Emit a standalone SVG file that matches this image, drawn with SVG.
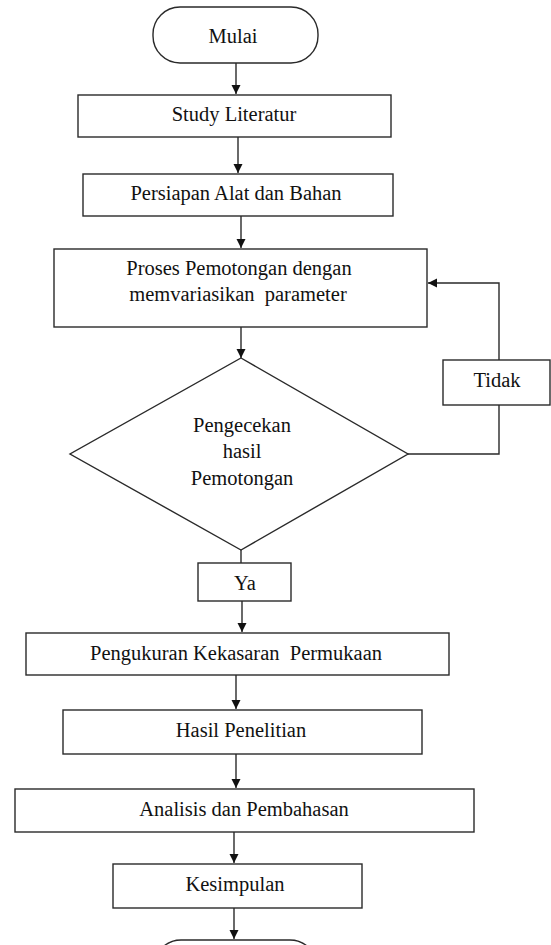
<svg xmlns="http://www.w3.org/2000/svg" width="551" height="945" viewBox="0 0 551 945">
<style>
.s{fill:#fff;stroke:#2a2a2a;stroke-width:1.4}
.c{fill:none;stroke:#2a2a2a;stroke-width:1.4}
.t{font-family:'Liberation Serif','DejaVu Serif',serif;font-size:20.5px;fill:#111;text-anchor:middle}
</style>
<defs>
<marker id="ah" markerUnits="userSpaceOnUse" markerWidth="10" markerHeight="10" refX="9" refY="4.5" orient="auto">
<path d="M0,0 L9,4.5 L0,9 z" fill="#111"/>
</marker>
</defs>
<rect width="551" height="945" fill="#fff"/>
<g id="connectors">
<line class="c" x1="236" y1="63" x2="236" y2="94" marker-end="url(#ah)"/>
<line class="c" x1="238" y1="137" x2="238" y2="173" marker-end="url(#ah)"/>
<line class="c" x1="241" y1="216" x2="241" y2="248" marker-end="url(#ah)"/>
<line class="c" x1="241" y1="327" x2="241" y2="358" marker-end="url(#ah)"/>
<line class="c" x1="241" y1="550" x2="241" y2="563"/>
<line class="c" x1="242" y1="601" x2="242" y2="632" marker-end="url(#ah)"/>
<line class="c" x1="236" y1="675" x2="236" y2="709" marker-end="url(#ah)"/>
<line class="c" x1="236" y1="754" x2="236" y2="788" marker-end="url(#ah)"/>
<line class="c" x1="234" y1="832" x2="234" y2="863" marker-end="url(#ah)"/>
<line class="c" x1="234" y1="908" x2="234" y2="939" marker-end="url(#ah)"/>
<polyline class="c" points="408,454 499,454 499,405"/>
<polyline class="c" points="499,360 499,283 428,283" marker-end="url(#ah)"/>
</g>
<g class="t" font-family="Liberation Serif, DejaVu Serif, serif">
<g id="mulai"><rect class="s" x="153" y="7" width="165" height="56" rx="27"/><text x="233" y="43">Mulai</text></g>
<g id="study"><rect class="s" x="78" y="95" width="313" height="42"/><text x="234" y="121">Study Literatur</text></g>
<g id="persiapan"><rect class="s" x="83" y="174" width="310" height="42"/><text x="236" y="200">Persiapan Alat dan Bahan</text></g>
<g id="proses"><rect class="s" x="54" y="249" width="373" height="78"/><text x="239" y="275">Proses Pemotongan dengan</text><text x="238" y="301">memvariasikan&#160; parameter</text></g>
<g id="pengecekan"><polygon class="s" points="241,358 408,454 241,550 70,454"/><text x="242" y="432">Pengecekan</text><text x="242" y="458">hasil</text><text x="242" y="485">Pemotongan</text></g>
<g id="tidak"><rect class="s" x="443" y="360" width="107" height="45"/><text x="497" y="387">Tidak</text></g>
<g id="ya"><rect class="s" x="198" y="563" width="93" height="38"/><text x="245" y="590">Ya</text></g>
<g id="pengukuran"><rect class="s" x="26" y="633" width="423" height="42"/><text x="236" y="660">Pengukuran Kekasaran&#160; Permukaan</text></g>
<g id="hasil"><rect class="s" x="63" y="710" width="359" height="44"/><text x="241" y="737">Hasil Penelitian</text></g>
<g id="analisis"><rect class="s" x="15" y="789" width="459" height="43"/><text x="244" y="816">Analisis dan Pembahasan</text></g>
<g id="kesimpulan"><rect class="s" x="113" y="864" width="249" height="44"/><text x="235" y="891">Kesimpulan</text></g>
<g id="selesai"><rect class="s" x="154" y="940" width="163" height="56" rx="27"/></g>
</g>
</svg>
